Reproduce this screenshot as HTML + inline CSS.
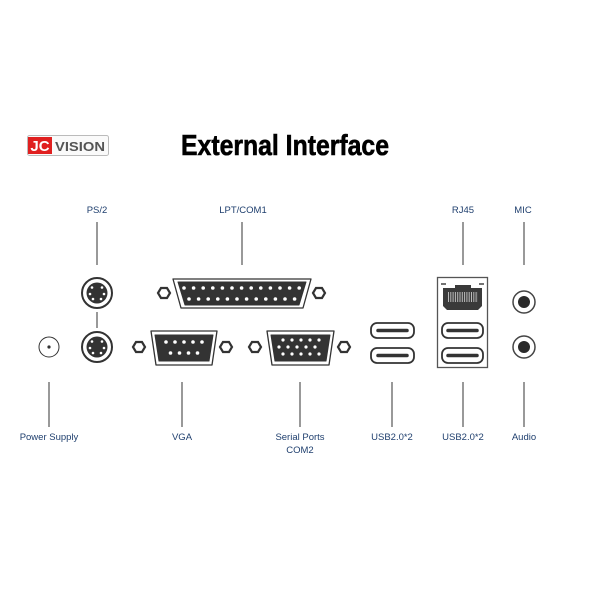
<!DOCTYPE html>
<html><head><meta charset="utf-8"><style>
html,body{margin:0;padding:0;background:#fff;}
svg{display:block;}
.l{font-family:"Liberation Sans",sans-serif;font-size:9.5px;fill:#1f3f6e;text-anchor:middle;}
</style></head><body>
<svg width="600" height="600" viewBox="0 0 600 600" xmlns="http://www.w3.org/2000/svg">
<rect width="600" height="600" fill="#fff"/>
<!-- logo -->
<rect x="27.5" y="135.5" width="81" height="20" rx="2" fill="#fafafa" stroke="#bbb"/>
<rect x="28" y="137" width="24" height="17" fill="#e02020"/>
<text x="40" y="151" font-family="Liberation Sans,sans-serif" font-weight="bold" font-size="15" fill="#fff" text-anchor="middle">JC</text>
<text x="80" y="151" font-family="Liberation Sans,sans-serif" font-weight="bold" font-size="13" fill="#555" text-anchor="middle" textLength="50" lengthAdjust="spacingAndGlyphs">VISION</text>
<!-- title -->
<text x="181" y="155" font-family="Liberation Sans,sans-serif" font-weight="bold" font-size="29" fill="#000" textLength="208" lengthAdjust="spacingAndGlyphs" stroke="#000" stroke-width="0.6">External Interface</text>

<!-- leader lines -->
<g stroke="#333" stroke-width="1">
<line x1="97" y1="222" x2="97" y2="265"/>
<line x1="97" y1="312" x2="97" y2="328"/>
<line x1="242" y1="222" x2="242" y2="265"/>
<line x1="463" y1="222" x2="463" y2="265"/>
<line x1="524" y1="222" x2="524" y2="265"/>
<line x1="49" y1="382" x2="49" y2="427"/>
<line x1="182" y1="382" x2="182" y2="427"/>
<line x1="300" y1="382" x2="300" y2="427"/>
<line x1="392" y1="382" x2="392" y2="427"/>
<line x1="463" y1="382" x2="463" y2="427"/>
<line x1="524" y1="382" x2="524" y2="427"/>
</g>

<!-- labels -->
<text class="l" x="97" y="213">PS/2</text>
<text class="l" x="243" y="213">LPT/COM1</text>
<text class="l" x="463" y="213">RJ45</text>
<text class="l" x="523" y="213">MIC</text>
<text class="l" x="49" y="440">Power Supply</text>
<text class="l" x="182" y="440">VGA</text>
<text class="l" x="300" y="440">Serial Ports</text>
<text class="l" x="300" y="453">COM2</text>
<text class="l" x="392" y="440">USB2.0*2</text>
<text class="l" x="463" y="440">USB2.0*2</text>
<text class="l" x="524" y="440">Audio</text>

<!-- power -->
<circle cx="49" cy="347" r="10" fill="#fff" stroke="#333" stroke-width="1"/>
<circle cx="49" cy="347" r="1.6" fill="#333"/>

<!-- PS/2 -->
<g>
<circle cx="97" cy="293" r="15" fill="#fff" stroke="#333" stroke-width="2"/>
<circle cx="97" cy="293" r="10.5" fill="#333"/>
<g fill="#fff"><circle cx="92" cy="287.5" r="1.3"/><circle cx="102" cy="287.5" r="1.3"/><circle cx="90" cy="294" r="1.3"/><circle cx="104" cy="294" r="1.3"/><circle cx="93" cy="299" r="1.3"/><circle cx="101" cy="299" r="1.3"/></g>
<circle cx="97" cy="347" r="15" fill="#fff" stroke="#333" stroke-width="2"/>
<circle cx="97" cy="347" r="10.5" fill="#333"/>
<g fill="#fff"><circle cx="92" cy="341.5" r="1.3"/><circle cx="102" cy="341.5" r="1.3"/><circle cx="90" cy="348" r="1.3"/><circle cx="104" cy="348" r="1.3"/><circle cx="93" cy="353" r="1.3"/><circle cx="101" cy="353" r="1.3"/></g>
</g>

<!-- hex nuts -->
<g fill="#fff" stroke="#333" stroke-width="2.2">
<polygon points="158,293 161,288 167,288 170,293 167,298 161,298"/>
<polygon points="313,293 316,288 322,288 325,293 322,298 316,298"/>
<polygon points="133,347 136,342 142,342 145,347 142,352 136,352"/>
<polygon points="220,347 223,342 229,342 232,347 229,352 223,352"/>
<polygon points="249,347 252,342 258,342 261,347 258,352 252,352"/>
<polygon points="338,347 341,342 347,342 350,347 347,352 341,352"/>
</g>

<!-- LPT -->
<path d="M173,279 L311,279 L303,308 L181,308 Z" fill="#fff" stroke="#333" stroke-width="1.3" stroke-linejoin="round"/>
<path d="M178,282 L306,282 L299,305 L185,305 Z" fill="#333" stroke="#333" stroke-width="1" stroke-linejoin="round"/>
<line x1="184" y1="288" x2="300" y2="288" stroke="#fff" stroke-width="3.6" stroke-linecap="round" stroke-dasharray="0 9.6"/>
<line x1="189" y1="299" x2="295" y2="299" stroke="#fff" stroke-width="3.6" stroke-linecap="round" stroke-dasharray="0 9.6"/>

<!-- DB9 (VGA label) -->
<path d="M151,331 L217,331 L212,365 L156,365 Z" fill="#fff" stroke="#333" stroke-width="1.3" stroke-linejoin="round"/>
<path d="M155,335 L213,335 L209,361 L159,361 Z" fill="#333" stroke="#333" stroke-linejoin="round"/>
<line x1="166" y1="342" x2="203" y2="342" stroke="#fff" stroke-width="3.6" stroke-linecap="round" stroke-dasharray="0 9"/>
<line x1="170.5" y1="353" x2="198" y2="353" stroke="#fff" stroke-width="3.6" stroke-linecap="round" stroke-dasharray="0 9"/>

<!-- DB15 (Serial label) -->
<path d="M267,331 L334,331 L329,365 L272,365 Z" fill="#fff" stroke="#333" stroke-width="1.3" stroke-linejoin="round"/>
<path d="M271,335 L330,335 L326,361 L275,361 Z" fill="#333" stroke="#333" stroke-linejoin="round"/>
<line x1="283" y1="340" x2="320" y2="340" stroke="#fff" stroke-width="3.2" stroke-linecap="round" stroke-dasharray="0 9"/>
<line x1="279" y1="347" x2="324" y2="347" stroke="#fff" stroke-width="3.2" stroke-linecap="round" stroke-dasharray="0 9"/>
<line x1="283" y1="354" x2="320" y2="354" stroke="#fff" stroke-width="3.2" stroke-linecap="round" stroke-dasharray="0 9"/>

<!-- USB left -->
<g fill="#fff" stroke="#333" stroke-width="1.8">
<rect x="371" y="323" width="43" height="15" rx="6"/>
<rect x="371" y="348" width="43" height="15" rx="6"/>
<rect x="442" y="323" width="41" height="15" rx="6"/>
<rect x="442" y="348" width="41" height="15" rx="6"/>
</g>
<g stroke="#333" stroke-width="3.5" stroke-linecap="round">
<line x1="378" y1="330.5" x2="407" y2="330.5"/>
<line x1="378" y1="355.5" x2="407" y2="355.5"/>
<line x1="448" y1="330.5" x2="477" y2="330.5"/>
<line x1="448" y1="355.5" x2="477" y2="355.5"/>
</g>

<!-- RJ45 box -->
<rect x="437.5" y="277.5" width="50" height="90" fill="none" stroke="#555" stroke-width="1.3"/>
<path d="M443,288 L455,288 L455,285 L471,285 L471,288 L482,288 L482,306 L478,310 L447,310 L443,306 Z" fill="#3a3a3a"/>
<line x1="448" y1="297" x2="478" y2="297" stroke="#bbb" stroke-width="10" stroke-dasharray="1 1.3"/>
<g stroke="#444" stroke-width="1.5"><line x1="441" y1="284" x2="446" y2="284"/><line x1="479" y1="284" x2="484" y2="284"/></g>

<!-- audio -->
<circle cx="524" cy="302" r="11" fill="#fff" stroke="#444" stroke-width="1.5"/>
<circle cx="524" cy="302" r="6" fill="#2a2a2a"/>
<circle cx="524" cy="347" r="11" fill="#fff" stroke="#444" stroke-width="1.5"/>
<circle cx="524" cy="347" r="6" fill="#2a2a2a"/>
</svg>
</body></html>
